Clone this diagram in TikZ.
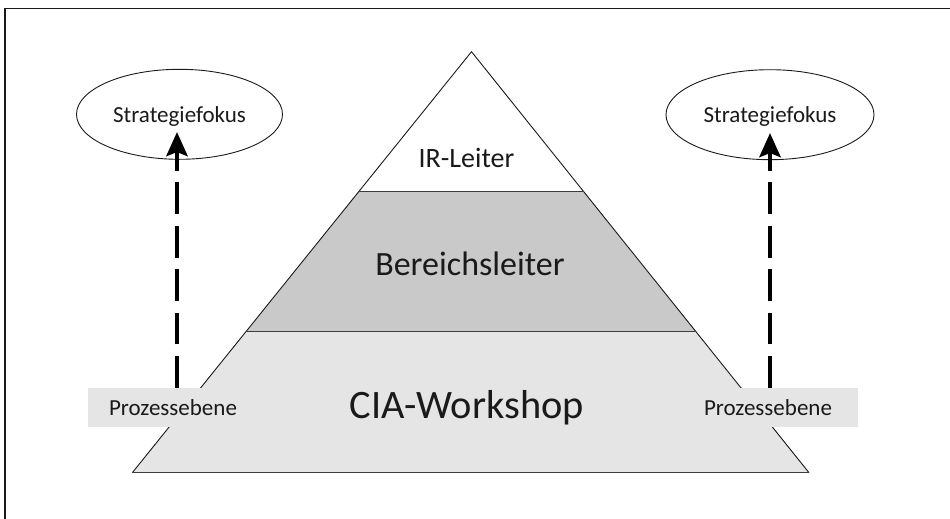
\documentclass[tikz,border=0pt]{standalone}
\usepackage{fontspec}
\setmainfont{Carlito}
\usetikzlibrary{arrows.meta,shapes.geometric}
\definecolor{midgray}{HTML}{C9C9C9}
\definecolor{lightgray}{HTML}{E5E5E5}
\definecolor{ink}{HTML}{1A1A1A}
\begin{document}
\begin{tikzpicture}[x=1pt,y=-1pt,
  ell/.style={ellipse, draw=ink, line width=0.9pt, minimum width=206pt, minimum height=90pt,
    inner sep=0pt, font=\fontsize{23}{27}\selectfont, text=ink, text height=16pt, text depth=0pt},
  pbox/.style={fill=lightgray, inner sep=0pt, minimum height=38.7pt,
    font=\fontsize{23}{27}\selectfont, text=ink, text height=16pt, text depth=0pt},
  level/.style={anchor=base, text=ink, inner sep=0pt},
  uparrow/.style={draw=black, line width=4.8pt, dash pattern=on 31.7pt off 11.7pt,
    -{Stealth[length=24pt,width=21pt,inset=4pt]}},
  edge/.style={draw=ink, line width=0.9pt, line join=miter},
  divider/.style={draw=ink!85, line width=1.4pt},
]
\useasboundingbox (0,0) rectangle (950,519);
% frame (top and left only)
\draw[line width=1.5pt, draw=ink] (5,519) -- (5,8.3) -- (950,8.3);

% pyramid corners
\coordinate (apex) at (471.5,51.7);
\coordinate (bl) at (132.3,472.7);
\coordinate (br) at (809,472.7);
\coordinate (l1) at (358.7,191.7);
\coordinate (r1) at (583.7,191.7);
\coordinate (l2) at (246.1,331.5);
\coordinate (r2) at (695.8,331.5);

\fill[white] (apex) -- (r1) -- (l1) -- cycle;
\fill[midgray] (l1) -- (r1) -- (r2) -- (l2) -- cycle;
\fill[lightgray] (l2) -- (r2) -- (br) -- (bl) -- cycle;
\draw[edge] (bl) -- (apex) -- (br);
\draw[divider] (l1) -- (r1);
\draw[divider] (l2) -- (r2);
\draw[divider] (bl) -- (br);

% level labels
\node[level, font=\fontsize{28}{32}\selectfont] (ir) at (466.5,167.7) {IR-Leiter};
\node[level, font=\fontsize{34}{40}\selectfont] (bereich) at (470,275.7) {Bereichsleiter};
\node[level, font=\fontsize{40.4}{46}\selectfont] (cia) at (466.7,418.3) {CIA-Workshop};

% process boxes
\node[pbox, minimum width=170pt] (lbox) at (173,407.3) {Prozessebene};
\node[pbox, minimum width=179.4pt] (rbox) at (768,407.3) {Prozessebene};

% strategy ellipses
\node[ell] (lell) at (179.5,114.3) {Strategiefokus};
\node[ell, minimum width=208pt] (rell) at (770,114.7) {Strategiefokus};

% arrow tips
\coordinate (ltip) at (177,132);
\coordinate (rtip) at (770,133);
\draw[uparrow] (lbox.north -| ltip) -- (ltip);
\draw[uparrow] (rbox.north -| rtip) -- (rtip);
\end{tikzpicture}
\end{document}
